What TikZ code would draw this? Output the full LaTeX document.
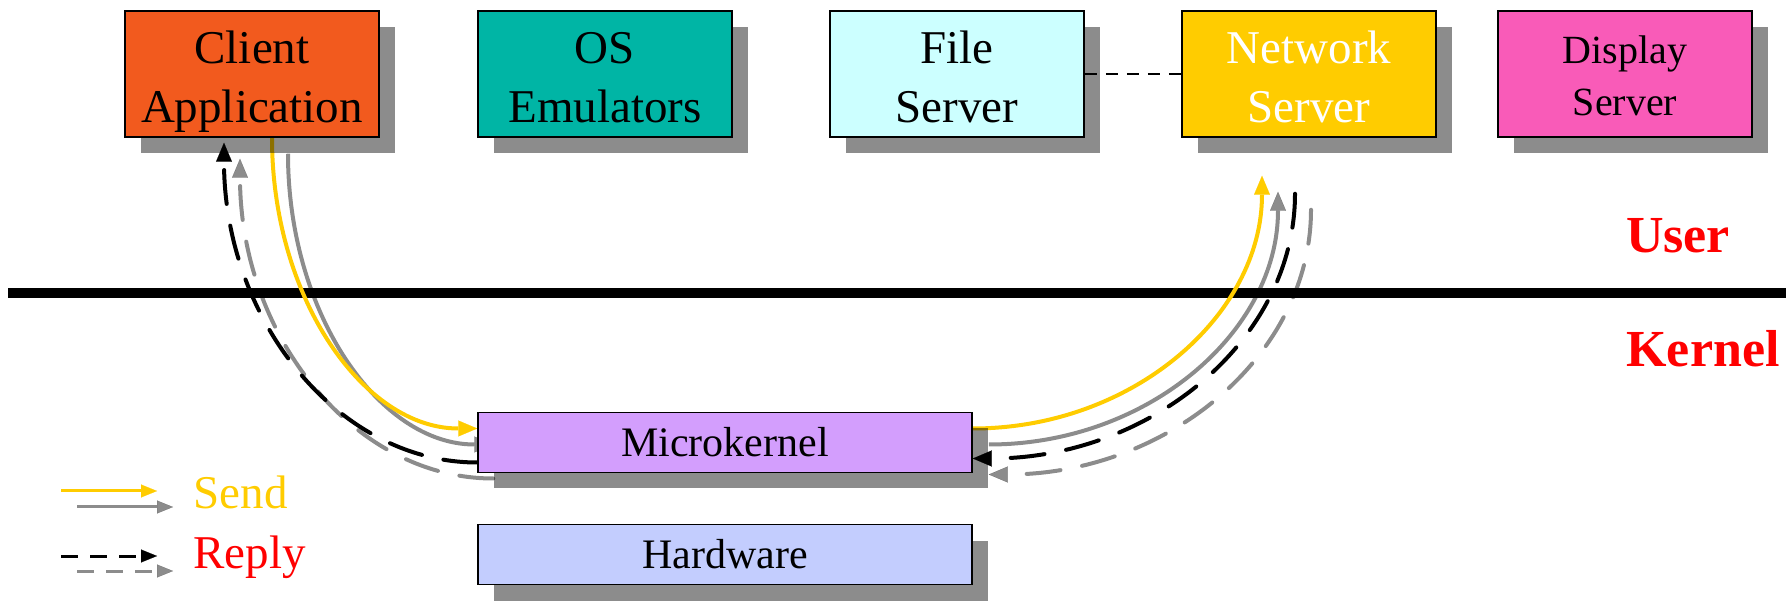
\documentclass[tikz,border=0pt]{standalone}
\usepackage{fontspec}
\setmainfont{Liberation Serif}
\usetikzlibrary{arrows.meta,calc,shadows}
\definecolor{clientc}{HTML}{F25A1E}
\definecolor{osc}{HTML}{00B5A5}
\definecolor{filec}{HTML}{CCFFFF}
\definecolor{netc}{HTML}{FFCC00}
\definecolor{dispc}{HTML}{F95BB8}
\definecolor{microc}{HTML}{D39EFD}
\definecolor{hwc}{HTML}{C3CDFE}
\definecolor{sendc}{HTML}{FFCC00}
\pgfdeclarelayer{arcs}
\pgfsetlayers{arcs,main}
% quarter-ellipse from #1 to #2 whose tangents meet at corner #3
\newcommand\qcurve[3]{(#1) .. controls ($(#1)!0.552!(#3)$) and ($(#2)!0.552!(#3)$) .. (#2)}
% two centred lines, lowered by #1 and taking no room of their own
\newcommand\boxlines[3]{\raisebox{-#1}[0pt][0pt]{\begin{tabular}{@{}c@{}}#2\\#3\end{tabular}}}
\begin{document}
\begin{tikzpicture}[x=1pt,y=1pt,
  boxshadow/.style={drop shadow={shadow xshift=16pt,shadow yshift=-16pt,fill=black,opacity=0.45}},
  server/.style={boxshadow,draw=black,line width=1.5pt,minimum width=254pt,minimum height=126pt,
    inner sep=0pt,font=\fontsize{47}{59}\selectfont},
  layerbox/.style={boxshadow,draw=black,line width=1.5pt,minimum width=494pt,minimum height=60pt,
    inner sep=0pt,font=\fontsize{42}{50}\selectfont},
  zone/.style={text=red,font=\bfseries\fontsize{52}{60}\selectfont,anchor=base},
  legendtext/.style={anchor=base west,font=\fontsize{47}{56}\selectfont},
  tipbig/.style={-{Triangle[length=19pt,width=16pt,line width=0.1pt]}},
  tipsmall/.style={-{Triangle[length=16pt,width=13pt,line width=0.1pt]}},
  sendarc/.style={tipbig,draw=sendc,line width=4pt},
  replyarc/.style={tipbig,draw=black,line width=4pt,line cap=round,dash pattern=on 34pt off 22pt},
  ghost/.style={draw=black,opacity=0.45},
]
\useasboundingbox (0,0) rectangle (1786,600);

% user-space servers
\node[server,fill=clientc] (client) at (252,526) {\boxlines{13pt}{Client}{Application}};
\node[server,fill=osc] (os) at (605,526) {\boxlines{13pt}{OS}{Emulators}};
\node[server,fill=filec] (file) at (957,526) {\boxlines{13pt}{File}{Server}};
\node[server,fill=netc,text=white] (net) at (1309,526) {\boxlines{13pt}{Network}{Server}};
\node[server,fill=dispc,font=\fontsize{40}{52}\selectfont] (disp) at (1625,526) {\boxlines{11pt}{Display}{Server}};

% kernel layers
\node[layerbox,fill=microc] (micro) at (725,157.5) {Microkernel};
\node[layerbox,fill=hwc] (hw) at (725,45.5) {Hardware};

\draw[line width=1.5pt,dash pattern=on 12pt off 9pt] (file.east) -- (net.west);

% user / kernel boundary
\coordinate (sepL) at (8,307);
\coordinate (sepR) at (1786,307);
\node[zone] (user) at (1678,347) {User};
\node[zone] (kernel) at (1703,233) {Kernel};

% message path end points
\coordinate (ls) at ([xshift=20pt]client.south);
\coordinate (le) at ([yshift=14pt]micro.west);
\coordinate (lrs) at ([yshift=-20pt]micro.west);
\coordinate (lre) at ([xshift=-28pt,yshift=-5pt]client.south);
\coordinate (rs) at ([yshift=14pt]micro.east);
\coordinate (re) at ([xshift=-47pt,yshift=-38pt]net.south);
\coordinate (rrs) at ([xshift=-14pt,yshift=-56pt]net.south);
\coordinate (rre) at ([yshift=-16pt]micro.east);

% legend end points
\coordinate (l1a) at (61,109);  \coordinate (l1b) at (157,109);
\coordinate (l2a) at (77,93);   \coordinate (l2b) at (173,93);
\coordinate (l3a) at (61,44);   \coordinate (l3b) at (157,44);
\coordinate (l4a) at (77,29);   \coordinate (l4b) at (173,29);

\begin{pgfonlayer}{arcs}
  \draw[line width=10pt] (sepL) -- (sepR);
  % shadows of the message paths
  \begin{scope}[transform canvas={shift={(16pt,-16pt)}}]
    \draw[sendarc,ghost] \qcurve{ls}{le}{ls|-le};
    \draw[sendarc,ghost] \qcurve{rs}{re}{re|-rs};
    \draw[replyarc,ghost] \qcurve{lrs}{lre}{lre|-lrs};
    \draw[replyarc,ghost] \qcurve{rrs}{rre}{rrs|-rre};
  \end{scope}
  % message paths
  \draw[sendarc] \qcurve{ls}{le}{ls|-le};
  \draw[sendarc] \qcurve{rs}{re}{re|-rs};
  \draw[replyarc] \qcurve{lrs}{lre}{lre|-lrs};
  \draw[replyarc] \qcurve{rrs}{rre}{rrs|-rre};
\end{pgfonlayer}

% legend
\draw[tipsmall,draw=sendc,line width=3pt] (l1a) -- (l1b);
\draw[tipsmall,ghost,line width=3pt] (l2a) -- (l2b);
\draw[tipsmall,draw=black,line width=3pt,dash pattern=on 17pt off 12pt] (l3a) -- (l3b);
\draw[tipsmall,ghost,line width=3pt,dash pattern=on 17pt off 12pt] (l4a) -- (l4b);
\node[legendtext,text=sendc] (send) at (190,92) {Send};
\node[legendtext,text=red] (reply) at (190,32) {Reply};
\end{tikzpicture}
\end{document}
